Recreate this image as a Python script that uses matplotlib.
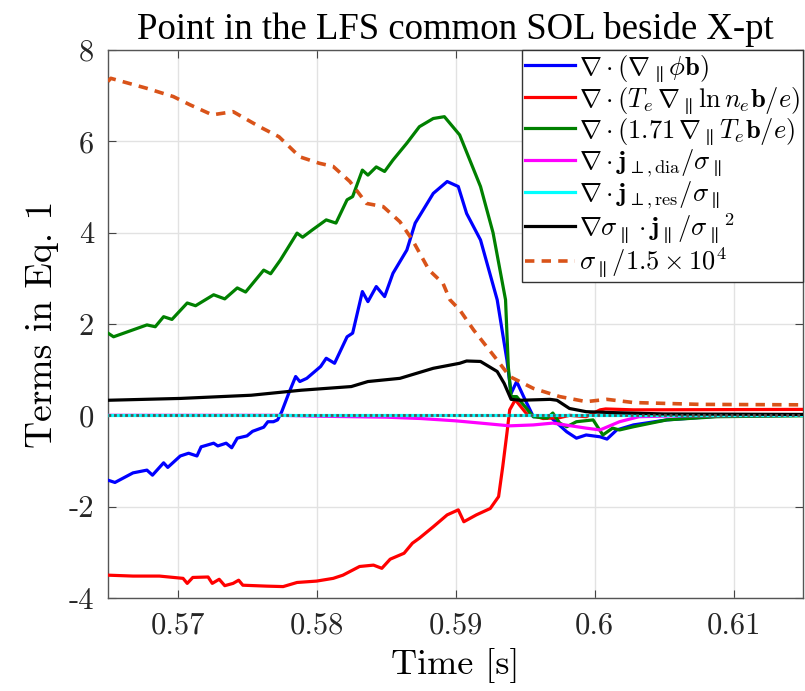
import matplotlib
matplotlib.use("Agg")
import matplotlib.pyplot as plt

plt.rcParams['font.family'] = ['Liberation Serif', 'DejaVu Serif']
plt.rcParams['mathtext.fontset'] = 'cm'
plt.rcParams['axes.unicode_minus'] = False

# ---- data ----
t_blue = [0.5650, 0.5655, 0.5668, 0.5678, 0.5682, 0.5690, 0.5693, 0.5702, 0.5708, 0.5714,
          0.5717, 0.5726, 0.5729, 0.5735, 0.5739, 0.5743, 0.5750, 0.5754, 0.5762, 0.5765,
          0.5769, 0.5772, 0.5775, 0.5780, 0.5785, 0.5788, 0.5793, 0.5803, 0.5807, 0.5813,
          0.5822, 0.5826, 0.5833, 0.5837, 0.5843, 0.5849, 0.5855, 0.5865, 0.5871, 0.5884,
          0.5894, 0.5902, 0.5908, 0.5918, 0.5930, 0.5937, 0.5940, 0.5944, 0.5949, 0.5956,
          0.5968, 0.5980, 0.5987, 0.5994, 0.6004, 0.6009, 0.6016, 0.6028, 0.6052, 0.6088, 0.6150]
v_blue = [-1.42, -1.47, -1.26, -1.20, -1.31, -1.04, -1.14, -0.89, -0.83, -0.89,
          -0.69, -0.61, -0.67, -0.61, -0.71, -0.50, -0.45, -0.35, -0.26, -0.14,
          -0.14, -0.10, 0.08, 0.48, 0.85, 0.74, 0.81, 1.07, 1.25, 1.14,
          1.72, 1.80, 2.71, 2.49, 2.82, 2.60, 3.11, 3.62, 4.21, 4.86,
          5.12, 5.01, 4.42, 3.84, 2.53, 1.21, 0.48, 0.74, 0.41, -0.03,
          -0.03, -0.36, -0.50, -0.43, -0.47, -0.52, -0.32, -0.21, -0.10, -0.02, 0.0]

t_red = [0.5650, 0.5668, 0.5687, 0.5704, 0.5707, 0.5711, 0.5722, 0.5725, 0.5730, 0.5734,
         0.5740, 0.5744, 0.5747, 0.5764, 0.5776, 0.5786, 0.5800, 0.5812, 0.5819, 0.5831,
         0.5841, 0.5847, 0.5853, 0.5863, 0.5869, 0.5874, 0.5884, 0.5894, 0.5902, 0.5906,
         0.5915, 0.5925, 0.5931, 0.5934, 0.5937, 0.5939, 0.5943, 0.5951, 0.5963, 0.5975,
         0.5982, 0.5994, 0.6004, 0.6008, 0.6028, 0.6150]
v_red = [-3.50, -3.52, -3.52, -3.57, -3.68, -3.55, -3.54, -3.68, -3.59, -3.73,
         -3.68, -3.61, -3.72, -3.74, -3.75, -3.66, -3.63, -3.57, -3.50, -3.31,
         -3.28, -3.35, -3.15, -3.02, -2.80, -2.69, -2.44, -2.18, -2.07, -2.33,
         -2.18, -2.04, -1.78, -1.12, -0.39, 0.12, 0.34, 0.04, -0.07, -0.05,
         0.0, -0.03, 0.12, 0.14, 0.12, 0.13]

t_green = [0.5650, 0.5654, 0.5678, 0.5684, 0.5690, 0.5696, 0.5707, 0.5713, 0.5726, 0.5734,
           0.5743, 0.5749, 0.5762, 0.5767, 0.5774, 0.5786, 0.5790, 0.5797, 0.5807, 0.5814,
           0.5822, 0.5826, 0.5833, 0.5837, 0.5843, 0.5849, 0.5855, 0.5865, 0.5874, 0.5884,
           0.5892, 0.5903, 0.5918, 0.5927, 0.5936, 0.5938, 0.5940, 0.5944, 0.5956, 0.5966,
           0.5970, 0.5975, 0.5980, 0.5987, 0.5999, 0.6006, 0.6013, 0.6018, 0.6028, 0.6052,
           0.6088, 0.6150]
v_green = [1.80, 1.72, 1.98, 1.94, 2.16, 2.10, 2.46, 2.40, 2.64, 2.55,
           2.79, 2.70, 3.18, 3.10, 3.40, 3.99, 3.90, 4.06, 4.28, 4.21,
           4.72, 4.79, 5.37, 5.26, 5.44, 5.34, 5.59, 5.96, 6.32, 6.50,
           6.54, 6.14, 5.01, 4.00, 2.53, 1.06, 0.41, 0.41, -0.03, -0.06,
           0.05, -0.17, -0.25, -0.14, -0.10, -0.43, -0.28, -0.32, -0.25, -0.10,
           -0.03, -0.01]

t_magenta = [0.5650, 0.5775, 0.5803, 0.5850, 0.5875, 0.5900, 0.5918, 0.5939, 0.5956, 0.5970,
             0.5994, 0.6004, 0.6018, 0.6032, 0.6060, 0.6150]
v_magenta = [0.0, 0.0, -0.02, -0.04, -0.07, -0.12, -0.17, -0.23, -0.21, -0.17,
             -0.28, -0.32, -0.14, -0.03, -0.01, 0.0]

t_cyan = [0.5650, 0.6150]
v_cyan = [0.0, 0.0]

t_black = [0.5650, 0.5702, 0.5753, 0.5789, 0.5825, 0.5837, 0.5860, 0.5884, 0.5903, 0.5908,
           0.5918, 0.5930, 0.5935, 0.5940, 0.5947, 0.5968, 0.5973, 0.5982, 0.5994, 0.6013,
           0.6050, 0.6150]
v_black = [0.33, 0.37, 0.44, 0.55, 0.63, 0.74, 0.81, 1.03, 1.14, 1.19,
           1.18, 0.96, 0.70, 0.35, 0.33, 0.35, 0.33, 0.15, 0.08, 0.06,
           0.03, 0.02]

t_orange = [0.5650, 0.5652, 0.5678, 0.5697, 0.5709, 0.5725, 0.5740, 0.5759, 0.5773, 0.5788,
            0.5802, 0.5812, 0.5824, 0.5836, 0.5848, 0.5860, 0.5869, 0.5881, 0.5891, 0.5896,
            0.5903, 0.5913, 0.5930, 0.5939, 0.5956, 0.5975, 0.5994, 0.6009, 0.6028, 0.6076, 0.6150]
v_orange = [7.31, 7.38, 7.16, 6.98, 6.80, 6.58, 6.65, 6.32, 6.10, 5.66,
            5.52, 5.45, 5.12, 4.64, 4.57, 4.24, 3.84, 3.18, 2.89, 2.53,
            2.31, 1.87, 1.21, 0.85, 0.59, 0.41, 0.30, 0.35, 0.28, 0.24, 0.23]

labels = [r'$\nabla\cdot(\nabla_\parallel\phi\mathbf{b})$',
          r'$\nabla\cdot(T_e\,\nabla_\parallel\ln n_e\mathbf{b}/e)$',
          r'$\nabla\cdot(1.71\,\nabla_\parallel T_e\mathbf{b}/e)$',
          r'$\nabla\cdot\mathbf{j}_{\perp,\mathrm{dia}}/\sigma_\parallel$',
          r'$\nabla\cdot\mathbf{j}_{\perp,\mathrm{res}}/\sigma_\parallel$',
          r'$\nabla\sigma_\parallel\cdot\mathbf{j}_\parallel/{\sigma_\parallel}^2$',
          r'$\sigma_\parallel/1.5\times10^4$']

x_ticks = [0.57, 0.58, 0.59, 0.60, 0.61]
x_ticklabels = ['0.57', '0.58', '0.59', '0.6', '0.61']
y_ticks = [-4, -2, 0, 2, 4, 6, 8]
y_ticklabels = ['-4', '-2', '0', '2', '4', '6', '8']

fig = plt.figure(figsize=(8.05, 6.91), dpi=100)
ax = fig.add_axes([108/805, 93/691, 695/805, 548/691])

lw = 2.3
ax.plot(t_blue, v_blue, color='#0000ff', lw=lw, label=labels[0], zorder=3)
ax.plot(t_red, v_red, color='#ff0000', lw=lw, label=labels[1], zorder=3)
ax.plot(t_green, v_green, color='#008000', lw=lw, label=labels[2], zorder=3)
ax.plot(t_magenta, v_magenta, color='#ff00ff', lw=lw, label=labels[3], zorder=3)
ax.plot(t_cyan, v_cyan, color='#00ffff', lw=lw, label=labels[4], zorder=3)
ax.plot(t_cyan, v_cyan, color='#555555', lw=2.0, ls=(0, (1, 1)), zorder=3.5)
ax.plot(t_black, v_black, color='#000000', lw=lw, label=labels[5], zorder=3)
ax.plot(t_orange, v_orange, color='#D95319', lw=2.6, ls=(0, (2.6, 2.0)), label=labels[6], zorder=3)

ax.set_xlim(0.565, 0.615)
ax.set_ylim(-4, 8)
ax.set_xticks(x_ticks)
ax.set_xticklabels(x_ticklabels, fontfamily='cmr10')
ax.set_yticks(y_ticks)
ax.set_yticklabels(y_ticklabels, fontfamily='cmr10')
ax.tick_params(direction='in', top=True, right=True, labelsize=22, length=6,
               color='#444444', labelcolor='#262626')
ax.tick_params(axis='x', pad=10)
ax.tick_params(axis='y', pad=10)
ax.grid(True, color='#e2e2e2', lw=1)
ax.set_axisbelow(True)
for s in ax.spines.values():
    s.set_color('#555555')
    s.set_linewidth(1.0)

ax.set_title('Point in the LFS common SOL beside X-pt', fontsize=26.5, pad=8)
ax.set_xlabel('Time [s]', fontsize=26, labelpad=6, fontfamily='cmr10')
ax.set_ylabel('Terms in Eq. 1', fontsize=27, labelpad=7, fontfamily='cmr10')

leg = ax.legend(loc='upper right', fontsize=19, borderaxespad=0, fancybox=False,
                edgecolor='#333333', framealpha=1, handlelength=1.9, labelspacing=0.02,
                handletextpad=0.15, borderpad=0.12)
leg.get_frame().set_linewidth(1.0)

fig.savefig('out.png', dpi=100)
